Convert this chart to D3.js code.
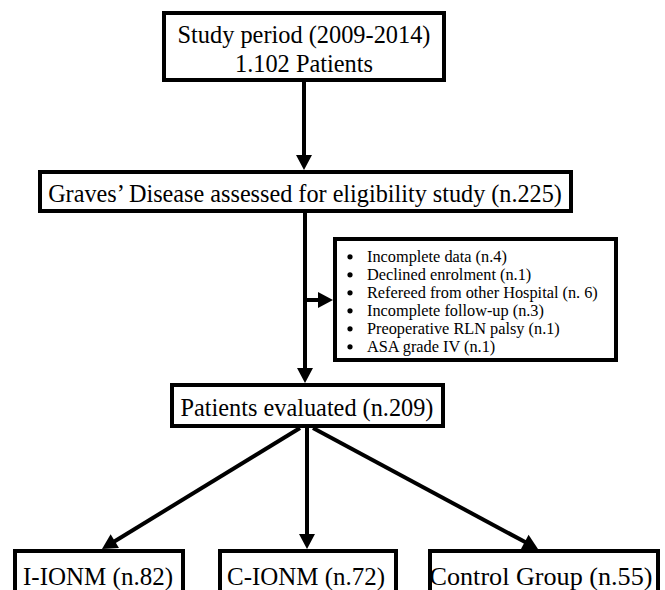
<!DOCTYPE html>
<html>
<head>
<meta charset="utf-8">
<script src="https://cdn.jsdelivr.net/npm/d3@7"></script>
<style>
  html, body { margin: 0; padding: 0; background: #fff; }
  svg { display: block; }
  svg text { font-family: "Liberation Serif", "Times New Roman", "DejaVu Serif", serif; }
</style>
</head>
<body>
<svg id="chart" width="665" height="590"></svg>
<script>
// ---- content ----
const topLines = ["Study period (2009-2014)", "1.102 Patients"];
const eligibilityLabel = "Graves\u2019 Disease assessed for eligibility study (n.225)";
const exclusions = [
  "Incomplete data (n.4)",
  "Declined enrolment (n.1)",
  "Refereed from other Hospital (n. 6)",
  "Incomplete follow-up (n.3)",
  "Preoperative RLN palsy (n.1)",
  "ASA grade IV (n.1)"
];
const evaluatedLabel = "Patients evaluated (n.209)";
const groups = ["I-IONM (n.82)", "C-IONM (n.72)", "Control Group (n.55)"];

// ---- layout (pixel positions of the flow chart) ----
const SW = 4;
const layout = {
  n1: {x0: 162, y0: 11, x1: 446, y1: 82, cx: 304, lines: [{b: 43, w: 253}, {b: 72}]},
  n2: {x0: 38, y0: 170, x1: 573, y1: 213, cx: 305, b: 202, w: 514},
  n3: {x0: 333, y0: 237, x1: 618, y1: 362, bulletX: 350, textX: 367, firstB: 262, step: 18, w: 231},
  n4: {x0: 170, y0: 383, x1: 445, y1: 428, cx: 307, b: 416, w: 253},
  groups: [
    {x0: 13, x1: 185, cx: 98, w: 150},
    {x0: 218, x1: 398, cx: 306, w: 158},
    {x0: 428, x1: 660, cx: 541, w: 223}
  ],
  gy0: 549, gy1: 640, gb: 585
};
const arrows = [
  [[304, 82], [304, 170]],
  [[305, 213], [305, 383]],
  [[305, 300], [333, 300]],
  [[307, 428], [307, 549]],
  [[300, 428], [102, 549]],
  [[313, 428], [538, 549]]
];

const svg = d3.select("#chart");

function box(b, y0, y1) {
  svg.append("rect")
    .attr("x", b.x0 + SW / 2).attr("y", (y0 ?? b.y0) + SW / 2)
    .attr("width", b.x1 - b.x0 - SW).attr("height", (y1 ?? b.y1) - (y0 ?? b.y0) - SW)
    .attr("fill", "#fff").attr("stroke", "#000").attr("stroke-width", SW);
}

function fitText(sel, target, base) {
  sel.style("font-size", base + "px");
  const w = sel.node().getComputedTextLength();
  const fs = base * target / w;
  sel.style("font-size", fs + "px");
  return fs;
}

function label(x, y, txt, anchor) {
  return svg.append("text")
    .attr("x", x).attr("y", y)
    .attr("text-anchor", anchor || "middle")
    .attr("fill", "#000")
    .text(txt);
}

const line = d3.line();
const AL = 15, AW = 8;
arrows.forEach(([p0, p1]) => {
  const dx = p1[0] - p0[0], dy = p1[1] - p0[1];
  const len = Math.hypot(dx, dy);
  const ux = dx / len, uy = dy / len;
  const base = [p1[0] - ux * AL, p1[1] - uy * AL];
  svg.append("path")
    .attr("d", line([p0, [base[0] + ux * 2, base[1] + uy * 2]]))
    .attr("stroke", "#000").attr("stroke-width", SW).attr("fill", "none");
  svg.append("path")
    .attr("d", line([p1, [base[0] - uy * AW, base[1] + ux * AW], [base[0] + uy * AW, base[1] - ux * AW]]) + "Z")
    .attr("fill", "#000");
});

const L = layout;
box(L.n1);
const t1 = label(L.n1.cx, L.n1.lines[0].b, topLines[0]);
const fs1 = fitText(t1, L.n1.lines[0].w, 22);
label(L.n1.cx, L.n1.lines[1].b, topLines[1]).style("font-size", fs1 + "px");

box(L.n2);
fitText(label(L.n2.cx, L.n2.b, eligibilityLabel), L.n2.w, 22);

box(L.n3);
const exTexts = svg.append("g").selectAll("text").data(exclusions).join("text")
  .attr("x", L.n3.textX)
  .attr("y", (d, i) => L.n3.firstB + i * L.n3.step)
  .attr("fill", "#000")
  .text(d => d);
const longest = exTexts.filter((d, i) => i === 2);
const fs3 = fitText(longest, L.n3.w, 15);
exTexts.style("font-size", fs3 + "px");
svg.append("g").selectAll("circle").data(exclusions).join("circle")
  .attr("cx", L.n3.bulletX)
  .attr("cy", (d, i) => L.n3.firstB + i * L.n3.step - fs3 * 0.32)
  .attr("r", 2.6).attr("fill", "#000");

box(L.n4);
fitText(label(L.n4.cx, L.n4.b, evaluatedLabel), L.n4.w, 22);

L.groups.forEach((g, i) => {
  box(g, L.gy0, L.gy1);
  fitText(label(g.cx, L.gb, groups[i]), g.w, 22);
});
</script>
</body>
</html>
